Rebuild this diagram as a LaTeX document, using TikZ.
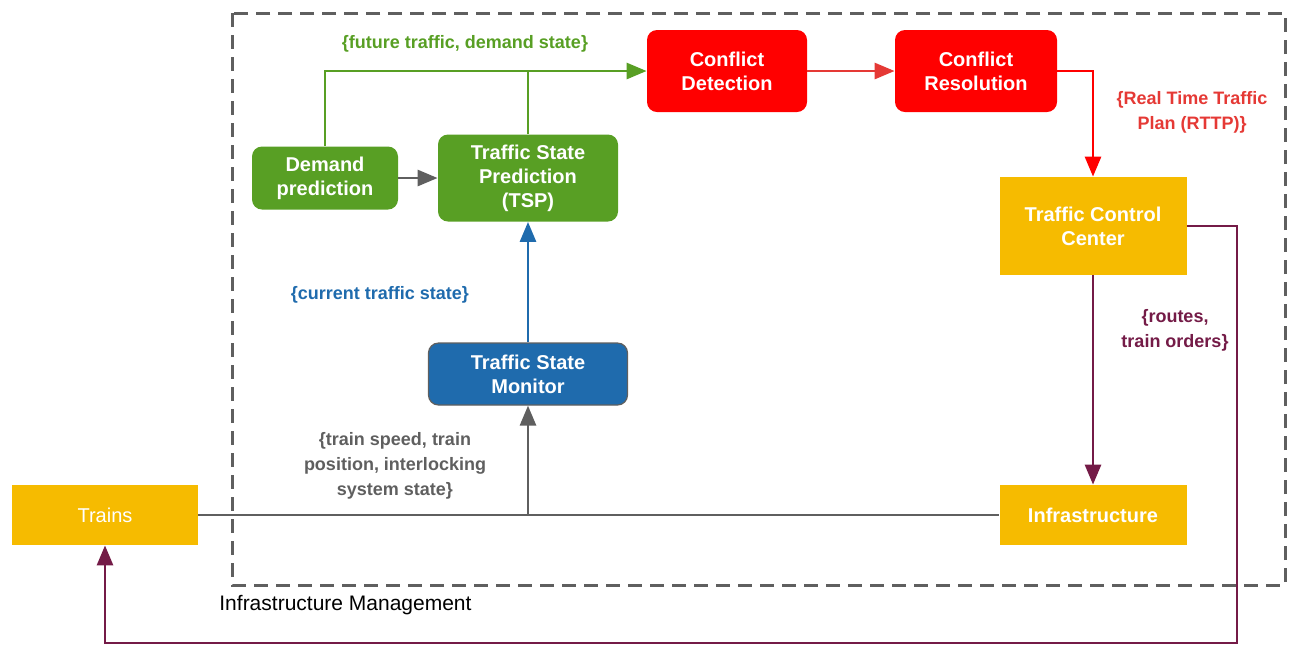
\documentclass[tikz,border=0pt]{standalone}
\usepackage{fontspec}
\setmainfont{Liberation Sans}
\usetikzlibrary{arrows.meta}

\definecolor{boxgreen}{HTML}{589F24}
\definecolor{boxred}{HTML}{FF0000}
\definecolor{boxyellow}{HTML}{F6BB00}
\definecolor{boxblue}{HTML}{1F6BAD}
\definecolor{linered}{HTML}{E53935}
\definecolor{linepurple}{HTML}{741B47}
\definecolor{linegray}{HTML}{5F5F5F}

\begin{document}
\begin{tikzpicture}[x=0.5pt, y=-0.5pt,
        box/.style={rectangle, inner sep=0pt, align=center, text=white,
            font=\fontsize{10}{12}\selectfont\bfseries},
        rbox/.style={box, rounded corners=5pt, fill=#1},
        sbox/.style={box, fill=boxyellow},
        flow/.style={line width=1.4pt, -{Triangle[length=10pt, width=8pt]}},
        tag/.style={align=center, font=\fontsize{9}{12.5}\selectfont\bfseries}]
    \useasboundingbox (0, 0) rectangle (1296, 645);

    \draw[linegray, line width=1.5pt, dash pattern=on 7pt off 4pt] (232, 13) rectangle (1285, 585);
    \node[anchor=north west, inner sep=0pt, font=\fontsize{10.5}{12}\selectfont] (imlabel) at (219, 595) {Infrastructure Management};

    % boxes
    \node[sbox, minimum width=93pt, minimum height=30pt, font=\fontsize{10}{12}\selectfont] (trains) at (105, 515) {Trains};
    \node[sbox, minimum width=93.5pt, minimum height=30pt] (infra) at (1093, 515) {Infrastructure};
    \node[sbox, minimum width=93.5pt, minimum height=49pt] (tcc) at (1093, 226) {Traffic Control\\Center};

    \node[rbox=boxred, minimum width=80pt, minimum height=41pt] (cd) at (727, 71) {Conflict\\Detection};
    \node[rbox=boxred, minimum width=81pt, minimum height=41pt] (cr) at (976, 71) {Conflict\\Resolution};

    \node[rbox=boxgreen, minimum width=73pt, minimum height=31.5pt] (dp) at (325, 178) {Demand\\prediction};
    \node[rbox=boxgreen, minimum width=90pt, minimum height=43.5pt] (tsp) at (528, 178) {Traffic State\\Prediction\\(TSP)};

    \node[rbox=boxblue, draw=linegray, line width=0.6pt, minimum width=99.5pt, minimum height=31pt] (tsm) at (528, 374) {Traffic State\\Monitor};

    % connectors
    \coordinate (loop) at (1237, 643);

    \draw[flow, boxgreen] (dp.north) |- (cd.west);
    \draw[boxgreen, line width=1.4pt] (tsp.north) -- (tsp.north |- cd.west);
    \draw[flow, linegray] (dp.east) -- (tsp.west);
    \draw[flow, boxblue] (tsm.north) -- (tsp.south);
    \draw[linegray, line width=1.4pt] (trains.east) -- (infra.west);
    \draw[flow, linegray] (tsm.south |- trains.east) -- (tsm.south);

    \draw[flow, linered] (cd.east) -- (cr.west);
    \draw[flow, boxred] (cr.east) -| (tcc.north);
    \draw[flow, linepurple] (tcc.south) -- (infra.north);
    \draw[flow, linepurple] (tcc.east) -| (loop) -| (trains.south);

    % labels
    \node[tag, text=boxgreen] (futlabel) at (465, 44) {\{future traffic, demand state\}};
    \node[tag, text=linered] (rttplabel) at (1192, 112) {\{Real Time Traffic\\Plan (RTTP)\}};
    \node[tag, text=boxblue] (curlabel) at (380, 295) {\{current traffic state\}};
    \node[tag, text=linegray] (trainlabel) at (395, 466) {\{train speed, train\\position, interlocking\\system state\}};
    \node[tag, text=linepurple] (routelabel) at (1175, 330) {\{routes,\\train orders\}};
\end{tikzpicture}
\end{document}
